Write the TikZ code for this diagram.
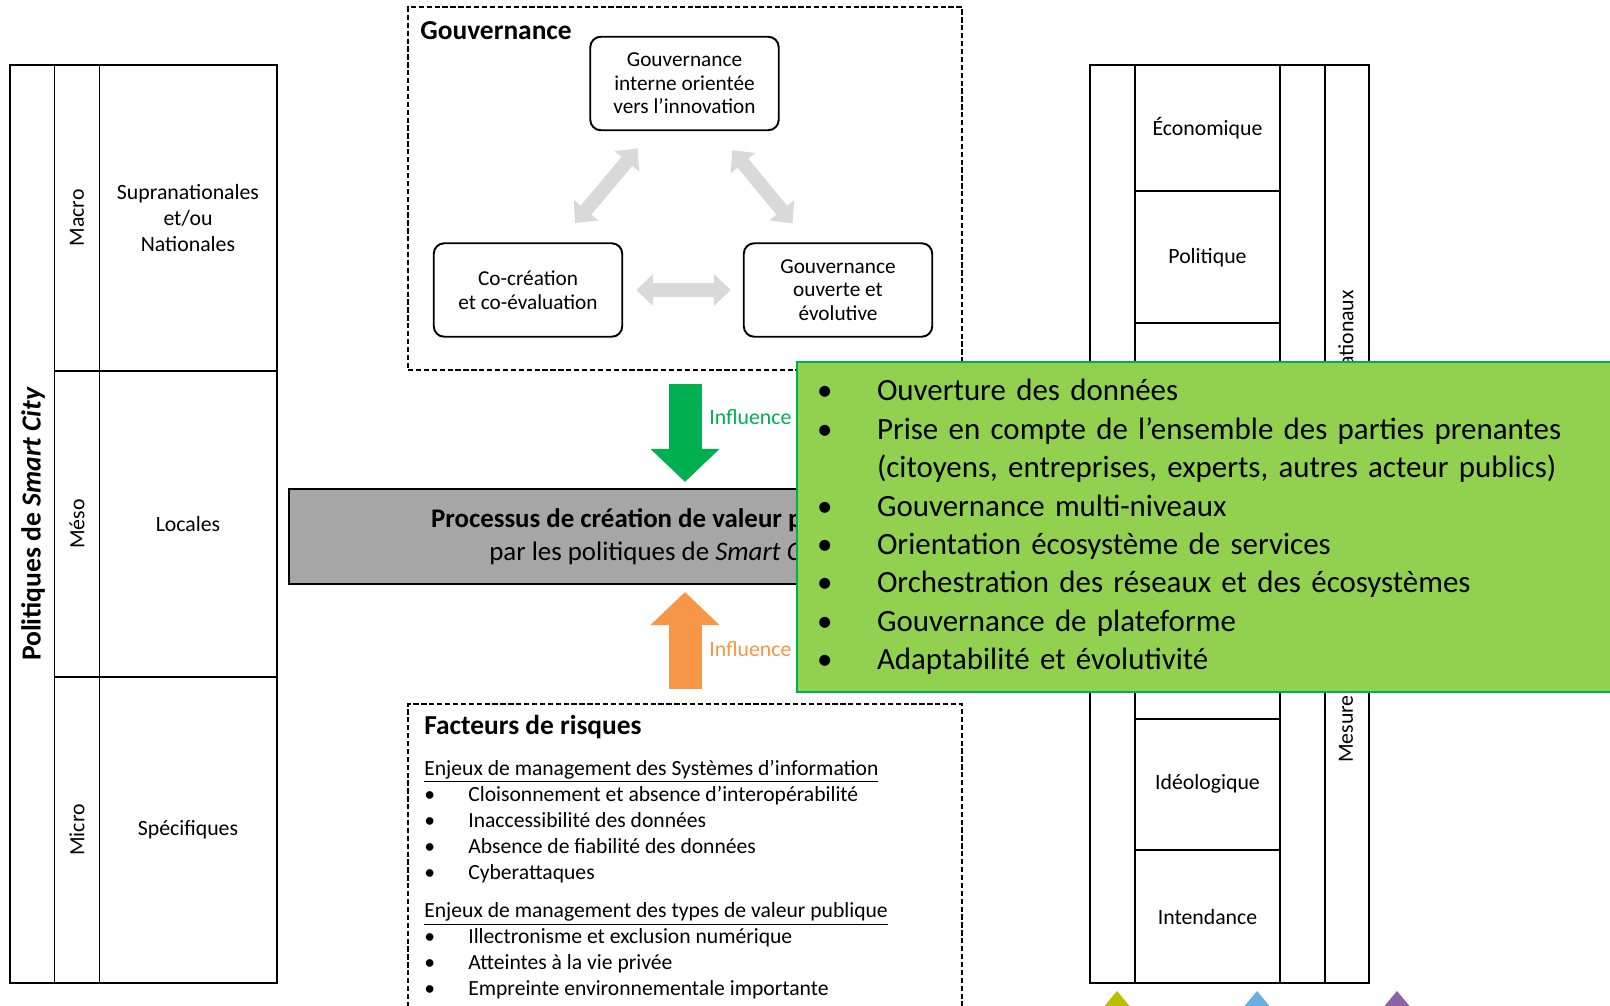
\documentclass[tikz,border=0pt]{standalone}
\usepackage{fontspec}
\setmainfont{Carlito}
\usetikzlibrary{arrows.meta}

\definecolor{infgreen}{HTML}{00B050}
\definecolor{boxgreen}{HTML}{92D050}
\definecolor{inforange}{HTML}{F79646}
\definecolor{linkgray}{HTML}{D9D9D9}
\definecolor{procgray}{HTML}{A6A6A6}
\definecolor{trione}{HTML}{BBBF00}
\definecolor{tritwo}{HTML}{67B0E1}
\definecolor{trithree}{HTML}{8E62A5}

\newcommand{\ritem}[1]{\makebox[0.88cm][l]{\textbullet}#1}
\newcommand{\gitem}[1]{\makebox[1.2cm][l]{\textbullet}#1}

\tikzset{
  tabline/.style={line width=1.1pt},
  dashbox/.style={draw, dash pattern=on 3pt off 1.5pt, line width=0.8pt, inner sep=0pt, minimum width=11.08cm},
  govbox/.style={draw, rounded corners=6pt, line width=1.1pt, align=center, minimum width=3.77cm, minimum height=1.87cm, inner sep=0pt, font=\fontsize{12.1}{13.4}\selectfont},
  cell/.style={align=center, font=\fontsize{12.4}{14.6}\selectfont},
  boxtitle/.style={anchor=west, inner sep=0pt, font=\fontsize{15.6}{18}\selectfont\bfseries},
  link/.style={linkgray, line width=0.28cm, {Triangle[length=0.34cm,width=0.62cm]}-{Triangle[length=0.34cm,width=0.62cm]}},
  influ/.style={line width=0.66cm, -{Triangle[length=0.66cm,width=1.34cm]}},
  influtext/.style={anchor=west, inner sep=0pt, font=\fontsize{12.4}{14}\selectfont},
}

\begin{document}
\begin{tikzpicture}[x=0.02cm, y=-0.02cm]
  \useasboundingbox (0,0) rectangle (1610,1006);

  % levels of the policies
  \draw[tabline] (10,65) rectangle (277,983);
  \draw[tabline] (54.5,65) -- (54.5,983);
  \draw[tabline] (99.5,65) -- (99.5,983);
  \draw[tabline] (54.5,371) -- (277,371);
  \draw[tabline] (54.5,677) -- (277,677);
  \node[rotate=90, font=\fontsize{15.7}{18}\selectfont\bfseries] (pol) at (33,524) {Politiques de \textit{Smart City}};
  \node[cell, rotate=90] (macro) at (77,218) {Macro};
  \node[cell, rotate=90] (meso) at (77,524) {Méso};
  \node[cell, rotate=90] (micro) at (77,830) {Micro};
  \node[cell] (supra) at (188,218) {Supranationales\\et/ou\\Nationales};
  \node[cell] (locales) at (188,524) {Locales};
  \node[cell] (specif) at (188,830) {Spécifiques};

  % types of public value
  \draw[tabline] (1090,65) rectangle (1369,983);
  \foreach \x in {1135,1280,1325}
    \draw[tabline] (\x,65) -- (\x,983);
  \foreach \y in {191,323,719,850}
    \draw[tabline] (1135,\y) -- (1280,\y);
  \node[cell] (eco) at (1207.5,128) {Économique};
  \node[cell] (poli) at (1207.5,258) {Politique};
  \node[cell] (ideo) at (1207.5,784) {Idéologique};
  \node[cell] (intend) at (1207.5,917) {Intendance};
  \node[cell, rotate=90, anchor=east] (orga) at (1346,284) {ationaux};
  \node[cell, rotate=90] (mesure) at (1346,729) {Mesure};

  % gouvernance
  \node[dashbox, minimum height=7.26cm] (gov) at (685,188.5) {};
  \node[boxtitle] (govtitle) at (420,31) {Gouvernance};
  \node[govbox] (inno) at (684.5,83.5) {Gouvernance\\interne orientée\\vers l’innovation};
  \node[govbox] (cocrea) at (528,290) {Co-création\\et co-évaluation};
  \node[govbox] (ouverte) at (838,290) {Gouvernance\\ouverte et\\évolutive};
  \draw[link, shorten <=0.5cm, shorten >=0.45cm] (cocrea.57) -- (inno.236);
  \draw[link, shorten <=0.49cm, shorten >=0.49cm] (inno.304) -- (ouverte.122);
  \draw[link, shorten <=0.26cm, shorten >=0.24cm] (cocrea.east) -- (ouverte.west);

  % risks
  \node[dashbox, minimum height=6.52cm] (risk) at (685,867) {};
  \node[boxtitle] (risktitle) at (424,727) {Facteurs de risques};
  \node[anchor=north west, align=left, inner sep=0pt, font=\fontsize{12.3}{14.8}\selectfont] (risklist) at (424,760)
    {\underline{Enjeux de management des Systèmes d’information}\\
     \ritem{Cloisonnement et absence d’interopérabilité}\\
     \ritem{Inaccessibilité des données}\\
     \ritem{Absence de fiabilité des données}\\
     \ritem{Cyberattaques}\\[7pt]
     \underline{Enjeux de management des types de valeur publique}\\
     \ritem{Illectronisme et exclusion numérique}\\
     \ritem{Atteintes à la vie privée}\\
     \ritem{Empreinte environnementale importante}};

  % value creation process
  \node[draw, fill=procgray, line width=1.2pt, minimum width=14.8cm, minimum height=1.9cm, align=center,
        font=\fontsize{15.3}{19}\selectfont] (proc) at (659,536.5)
    {\textbf{Processus de création de valeur publique}\\par les politiques de \textit{Smart City}};
  \draw[influ, infgreen, shorten <=0.26cm, shorten >=0.12cm] (gov.south) -- (gov.south |- proc.north);
  \draw[influ, inforange, shorten <=0.28cm, shorten >=0.14cm] (risk.north) -- (risk.north |- proc.south);
  \node[influtext, text=infgreen] (infgov) at (709,417) {Influence};
  \node[influtext, text=inforange] (infrisk) at (709,649) {Influence};

  % levers
  \node[draw=infgreen, fill=boxgreen, line width=1.2pt, anchor=north west, minimum height=6.6cm,
        text width=15.6cm, inner xsep=0.4cm, align=left, font=\fontsize{17.6}{21.9}\selectfont] (levers) at (796,361)
    {\gitem{Ouverture des données}\\
     \gitem{Prise en compte de l’ensemble des parties prenantes}\\
     \hspace*{1.2cm}(citoyens, entreprises, experts, autres acteur publics)\\
     \gitem{Gouvernance multi-niveaux}\\
     \gitem{Orientation écosystème de services}\\
     \gitem{Orchestration des réseaux et des écosystèmes}\\
     \gitem{Gouvernance de plateforme}\\
     \gitem{Adaptabilité et évolutivité}};

  \fill[trione] (1117,991) -- (1142,1021) -- (1092,1021) -- cycle;
  \fill[tritwo] (1257,991) -- (1282,1021) -- (1232,1021) -- cycle;
  \fill[trithree] (1397,991) -- (1422,1021) -- (1372,1021) -- cycle;
\end{tikzpicture}
\end{document}
